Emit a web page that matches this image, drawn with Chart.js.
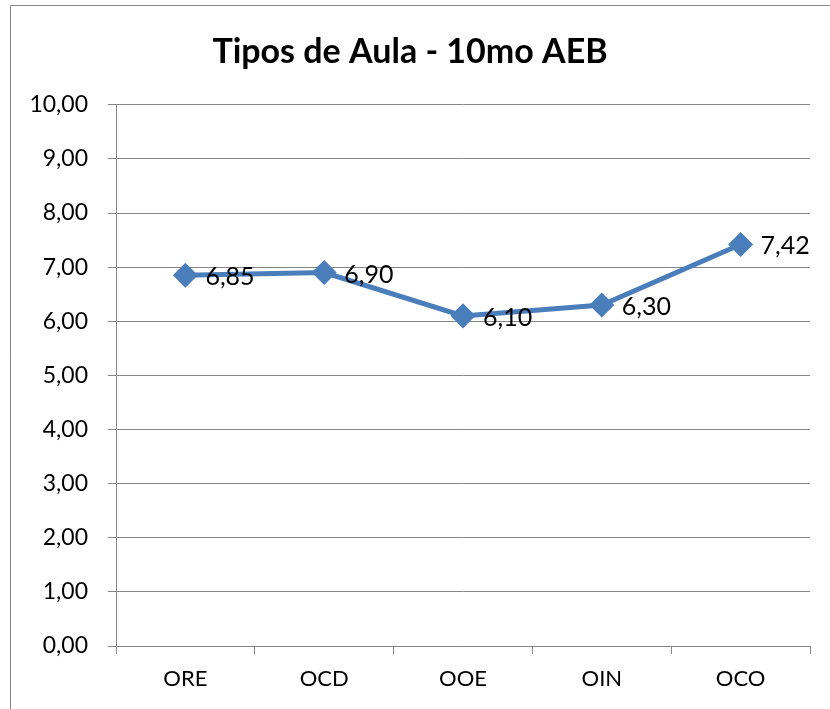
<!DOCTYPE html>
<html>
<head>
<meta charset="utf-8">
<script src="https://cdn.jsdelivr.net/npm/chart.js@4/dist/chart.umd.min.js"></script>
<style>
  html, body { margin: 0; padding: 0; background: #fff; }
  #wrap { width: 830px; height: 709px; position: relative; }
</style>
</head>
<body>
<div id="wrap"><canvas id="lineChart"></canvas></div>
<script>
var categories = ['ORE', 'OCD', 'OOE', 'OIN', 'OCO'];
var notas = [6.85, 6.90, 6.10, 6.30, 7.42];
var chartTitle = 'Tipos de Aula - 10mo AEB';
var yMin = 0, yMax = 10, yStep = 1;

var fontFamily = 'Lato, "Open Sans", sans-serif';

function comma(v) {
    return v.toFixed(2).replace('.', ',');
}

// outer chart border (cropped on the right and bottom in the original)
var borderPlugin = {
    id: 'outerBorder',
    beforeDraw: function(chart) {
        var ctx = chart.ctx;
        ctx.save();
        ctx.fillStyle = '#fff';
        ctx.fillRect(0, 0, chart.width, chart.height);
        ctx.strokeStyle = '#868686';
        ctx.lineWidth = 1;
        ctx.beginPath();
        ctx.moveTo(10.5, chart.height);
        ctx.lineTo(10.5, 5.5);
        ctx.lineTo(chart.width, 5.5);
        ctx.stroke();
        ctx.restore();
    }
};

var valueLabels = {
    id: 'valueLabels',
    afterDatasetsDraw: function(chart) {
        var ctx = chart.ctx;
        var meta = chart.getDatasetMeta(0);
        ctx.save();
        ctx.font = '25px ' + fontFamily;
        ctx.fillStyle = '#000';
        ctx.textAlign = 'left';
        ctx.textBaseline = 'middle';
        meta.data.forEach(function(pt, i) {
            ctx.fillText(comma(notas[i]), pt.x + 20, pt.y + 2);
        });
        ctx.restore();
    }
};

var ctx = document.getElementById('lineChart').getContext('2d');
var chart = new Chart(ctx, {
    type: 'line',
    data: {
        labels: categories,
        datasets: [{
            data: notas,
            borderColor: '#4A7EBB',
            backgroundColor: '#4A7EBB',
            borderWidth: 5,
            pointStyle: 'rectRot',
            pointRadius: 9,
            pointHoverRadius: 9,
            tension: 0,
            clip: false
        }]
    },
    options: {
        responsive: true,
        maintainAspectRatio: false,
        animation: false,
        layout: { padding: { left: 10, right: 20, top: 0, bottom: 0 } },
        plugins: {
            legend: { display: false },
            tooltip: { enabled: false },
            title: {
                display: true,
                text: chartTitle,
                color: '#000',
                font: { family: fontFamily, size: 34, weight: 'bold' },
                padding: { top: 32, bottom: 32 }
            }
        },
        scales: {
            x: {
                offset: true,
                grid: {
                    offset: true,
                    drawOnChartArea: false,
                    drawTicks: true,
                    tickLength: 8,
                    color: '#868686'
                },
                border: { color: '#868686' },
                ticks: {
                    color: '#000',
                    padding: 12,
                    font: { family: fontFamily, size: 22 }
                },
                afterFit: function(scale) { scale.height = 63; }
            },
            y: {
                min: yMin,
                max: yMax,
                grid: {
                    color: '#868686',
                    tickLength: 8
                },
                border: { color: '#868686' },
                ticks: {
                    stepSize: yStep,
                    color: '#000',
                    padding: 20,
                    font: { family: fontFamily, size: 23 },
                    callback: function(v) { return comma(v); }
                },
                afterFit: function(scale) { scale.width = 106; }
            }
        }
    },
    plugins: [borderPlugin, valueLabels]
});
</script>
</body>
</html>
